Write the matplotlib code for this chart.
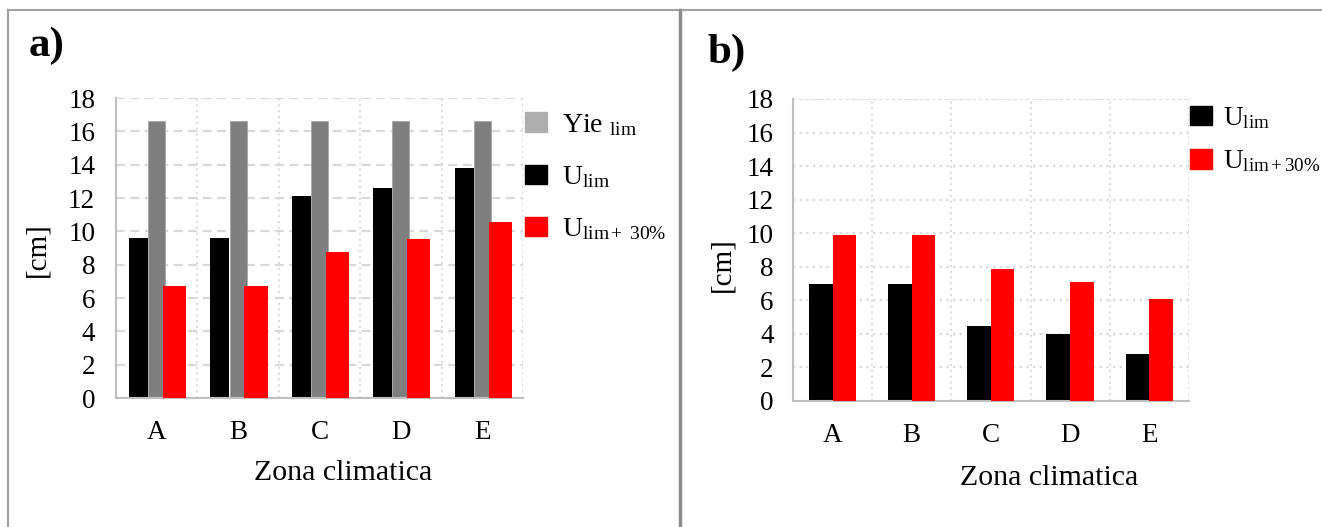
import numpy as np
import matplotlib
matplotlib.use("Agg")
import matplotlib.pyplot as plt
from matplotlib.patches import Patch
from matplotlib.lines import Line2D

plt.rcParams['font.family'] = ['Liberation Serif', 'DejaVu Serif']
plt.rcParams['mathtext.fontset'] = 'custom'
plt.rcParams['mathtext.rm'] = 'Liberation Serif'
plt.rcParams['mathtext.it'] = 'Liberation Serif:italic'

zone = ['A', 'B', 'C', 'D', 'E']

# panel a)
yie_lim = [16.6, 16.6, 16.6, 16.6, 16.6]
u_lim_a = [9.6, 9.6, 12.1, 12.6, 13.8]
u_lim30_a = [6.7, 6.7, 8.75, 9.55, 10.55]

# panel b)
u_lim_b = [7.0, 7.0, 4.5, 4.0, 2.8]
u_lim30_b = [9.9, 9.9, 7.85, 7.1, 6.1]

W, H = 1322, 527
fig = plt.figure(figsize=(W / 100, H / 100), dpi=100)


def px_axes(l, t, r, b):
    return fig.add_axes([l / W, 1 - b / H, (r - l) / W, (b - t) / H])


grid_c = '#d9d9d9'
spine_c = '#bfbfbf'


def style(ax, hstyle):
    ax.set_xlim(-0.5, 4.5)
    ax.set_ylim(0, 18)
    ax.set_yticks(np.arange(0, 19, 2))
    ax.set_xticks(range(5))
    ax.set_xticklabels(zone)
    ax.tick_params(length=0, labelsize=19.5)
    ax.set_axisbelow(True)
    for x in np.arange(0.5, 5, 1):
        ax.axvline(x, color=grid_c, lw=1.4, ls=(0, (1, 2)), zorder=0)
    for y in np.arange(2, 19, 2):
        ax.axhline(y, color=grid_c, lw=1.6, ls=hstyle, zorder=0)
    for s in ['top', 'right']:
        ax.spines[s].set_visible(False)
    for s in ['left', 'bottom']:
        ax.spines[s].set_color(spine_c)
        ax.spines[s].set_linewidth(1.5)


x = np.arange(len(zone))

# ---- a)
ax1 = px_axes(116, 98, 523, 398)
style(ax1, (0, (4, 2.5)))
ax1.tick_params(axis='y', pad=15)
ax1.tick_params(axis='x', pad=16)
ax1.bar(x - 0.223, u_lim_a, 0.233, color='black', zorder=2)
ax1.bar(x, yie_lim, 0.21, color='#7f7f7f', edgecolor='#a6a6a6', lw=0.6, zorder=2)
ax1.bar(x + 0.22, u_lim30_a, 0.283, color='#ff0000', zorder=3)

h1 = [Patch(color='#afafaf'), Patch(color='black'), Patch(color='#ff0000')]
l1 = [r'Yie $_{\mathrm{lim}}$', r'U$_{\mathrm{lim}}$', r'U$_{\mathrm{lim+\ 30\%}}$']
fig.legend(h1, l1, loc='upper left', bbox_to_anchor=(525 / W, 1 - 112 / H),
           frameon=False, fontsize=20, handlelength=0.78, handleheight=0.7,
           handletextpad=0.55, labelspacing=0.95, borderaxespad=0,
           borderpad=0)

fig.text(37, H - 250, '[cm]', transform=None, rotation=90, fontsize=21,
         ha='center', va='center')
fig.text(343, H - 473, 'Zona climatica', transform=None, fontsize=21.5,
         ha='center', va='center')
fig.text(29, H - 46, 'a)', transform=None, fontsize=31, fontweight='bold',
         ha='left', va='center')

# ---- b)
ax2 = px_axes(793, 99, 1189, 401)
style(ax2, (0, (1, 2)))
ax2.tick_params(axis='y', pad=14)
ax2.tick_params(axis='x', pad=16)
ax2.bar(x - 0.15, u_lim_b, 0.30, color='black', zorder=2)
ax2.bar(x + 0.148, u_lim30_b, 0.296, color='#ff0000', zorder=3)
ax2.axhline(18, color=grid_c, lw=1.4, ls=(0, (1, 2)), zorder=0)

h2 = [Patch(color='black'), Patch(color='#ff0000')]
l2 = [r'U$_{\mathrm{lim}}$', r'U$_{\mathrm{lim+30\%}}$']
fig.legend(h2, l2, loc='upper left', bbox_to_anchor=(1190 / W, 1 - 105 / H),
           frameon=False, fontsize=19.5, handlelength=0.82, handleheight=0.72,
           handletextpad=0.4, labelspacing=0.65, borderaxespad=0,
           borderpad=0)

fig.text(722, H - 265, '[cm]', transform=None, rotation=90, fontsize=21,
         ha='center', va='center')
fig.text(1049, H - 478, 'Zona climatica', transform=None, fontsize=21.5,
         ha='center', va='center')
fig.text(707, H - 53, 'b)', transform=None, fontsize=31, fontweight='bold',
         ha='left', va='center')

# panel frames
frame_c = '#a0a0a0'
fig.add_artist(Line2D([8 / W, 8 / W], [0, 1 - 10 / H], color=frame_c, lw=1.5))
fig.add_artist(Line2D([8 / W, 1], [1 - 10 / H, 1 - 10 / H], color=frame_c, lw=1.5))
fig.add_artist(Line2D([680 / W, 680 / W], [0, 1 - 10 / H], color='#8c8c8c', lw=2.5))

fig.savefig('out.png', dpi=100)
